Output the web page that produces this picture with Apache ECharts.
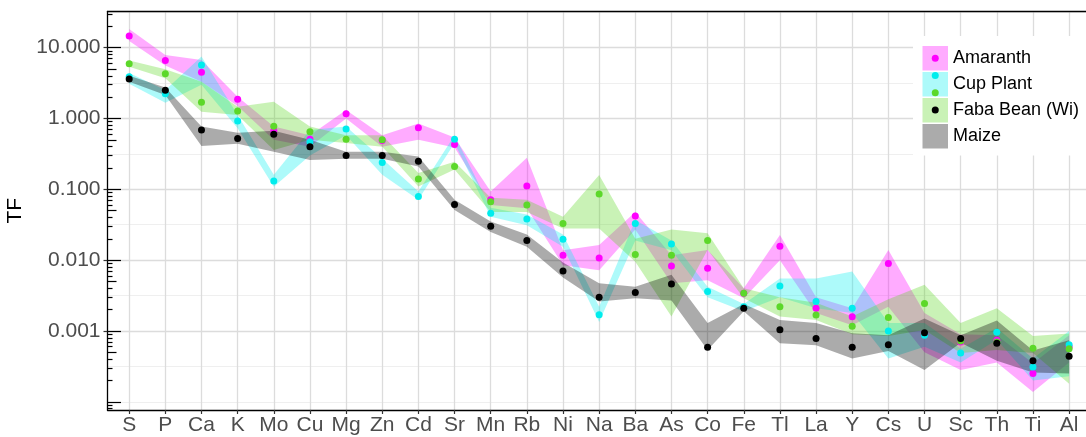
<!DOCTYPE html>
<html><head><meta charset="utf-8">
<script src="https://cdn.jsdelivr.net/npm/echarts@6/dist/echarts.min.js"></script>
<style>html,body{margin:0;padding:0;background:#fff}#c{width:1086px;height:437px}</style>
</head><body><div id="c"></div><script>
const elements = ['S','P','Ca','K','Mo','Cu','Mg','Zn','Cd','Sr','Mn','Rb','Ni','Na','Ba','As','Co','Fe','Tl','La','Y','Cs','U','Sc','Th','Ti','Al'];
const yBreaks = [0.001, 0.01, 0.1, 1, 10];

const amaranthMean = [14.6, 6.6, 4.5, 1.87, 0.67, 0.51, 1.17, 0.49, 0.74, 0.43, 0.071, 0.111, 0.0117, 0.0107, 0.042, 0.0083, 0.0077, 0.0034, 0.0157, 0.0021, 0.00159, 0.009, 0.0009, 0.0007, 0.00074, 0.00025, 0.0006];
const amaranthLow  = [12.4, 5.6, 3.3, 1.5, 0.5, 0.40, 1.0, 0.40, 0.50, 0.39, 0.06, 0.054, 0.0085, 0.0072, 0.027, 0.0047, 0.0052, 0.0029, 0.010, 0.0018, 0.0012, 0.0022, 0.0005, 0.00028, 0.00036, 0.000138, 0.00036];
const amaranthHigh = [18.4, 7.9, 6.7, 2.03, 0.77, 0.58, 1.32, 0.58, 0.85, 0.54, 0.093, 0.28, 0.0138, 0.0163, 0.048, 0.0117, 0.0139, 0.0040, 0.0226, 0.0030, 0.0021, 0.0139, 0.0018, 0.0009, 0.00087, 0.00035, 0.00087];

const cupMean = [3.9, 2.24, 5.7, 0.92, 0.131, 0.47, 0.71, 0.24, 0.079, 0.51, 0.046, 0.038, 0.0197, 0.0017, 0.033, 0.0169, 0.0036, 0.0022, 0.0043, 0.0026, 0.0021, 0.001, 0.00087, 0.00049, 0.00096, 0.00031, 0.00064];
const cupLow  = [3.1, 1.67, 3.0, 0.73, 0.109, 0.30, 0.58, 0.16, 0.071, 0.45, 0.041, 0.031, 0.0155, 0.00134, 0.019, 0.0138, 0.0030, 0.0019, 0.0030, 0.0021, 0.0018, 0.00041, 0.0006, 0.00036, 0.00075, 0.0002, 0.00023];
const cupHigh = [4.4, 2.53, 7.5, 1.12, 0.16, 0.69, 0.77, 0.27, 0.093, 0.58, 0.055, 0.044, 0.023, 0.0022, 0.037, 0.019, 0.0042, 0.0024, 0.0055, 0.0055, 0.0069, 0.0013, 0.0013, 0.00056, 0.0011, 0.00041, 0.001];

const fabaMean = [5.95, 4.3, 1.69, 1.28, 0.78, 0.65, 0.51, 0.50, 0.14, 0.21, 0.067, 0.060, 0.033, 0.086, 0.012, 0.0117, 0.019, 0.0034, 0.0022, 0.00168, 0.00117, 0.00155, 0.00245, 0.00072, 0.0007, 0.00057, 0.00056];
const fabaLow  = [5.4, 3.7, 1.25, 1.12, 0.36, 0.5, 0.45, 0.40, 0.11, 0.19, 0.048, 0.048, 0.028, 0.028, 0.0095, 0.0016, 0.014, 0.0029, 0.0016, 0.00143, 0.0009, 0.00085, 0.00103, 0.00049, 0.00054, 0.00049, 0.00018];
const fabaHigh = [6.6, 4.95, 3.3, 1.47, 1.73, 0.77, 0.58, 0.58, 0.17, 0.245, 0.076, 0.071, 0.041, 0.159, 0.02, 0.027, 0.024, 0.0040, 0.0030, 0.0025, 0.0016, 0.0028, 0.0045, 0.0013, 0.0021, 0.00085, 0.00092];

const maizeMean = [3.6, 2.5, 0.69, 0.52, 0.6, 0.40, 0.30, 0.30, 0.25, 0.061, 0.030, 0.019, 0.007, 0.003, 0.0035, 0.0046, 0.00059, 0.0021, 0.00104, 0.00078, 0.00059, 0.00064, 0.00094, 0.00078, 0.00067, 0.00038, 0.00044];
const maizeLow  = [3.3, 2.15, 0.41, 0.44, 0.34, 0.26, 0.27, 0.27, 0.21, 0.051, 0.025, 0.0155, 0.0057, 0.0026, 0.0029, 0.0027, 0.00054, 0.0019, 0.00067, 0.00063, 0.00041, 0.00052, 0.00028, 0.00068, 0.00038, 0.00026, 0.00025];
const maizeHigh = [4.0, 2.75, 0.77, 0.63, 0.67, 0.5, 0.34, 0.34, 0.29, 0.071, 0.035, 0.023, 0.0093, 0.0047, 0.0042, 0.0062, 0.0013, 0.0024, 0.00143, 0.0013, 0.00093, 0.00087, 0.0015, 0.00087, 0.0014, 0.00053, 0.00074];

const FONT = '"Liberation Sans", Arial, Helvetica, sans-serif';
const L = v => Math.log10(v);
const yMin = -4.116, yMax = 1.511;
const xMin = -0.6, xMax = elements.length - 1 + 0.6;

const plants = [
  {name:'Amaranth', mean:amaranthMean, lo:amaranthLow, hi:amaranthHigh, point:'#FF00FF', band:'rgba(255,0,255,0.33)'},
  {name:'Cup Plant', mean:cupMean, lo:cupLow, hi:cupHigh, point:'#00EDED', band:'rgba(0,240,240,0.32)'},
  {name:'Faba Bean (Wi)', mean:fabaMean, lo:fabaLow, hi:fabaHigh, point:'#5CD82A', band:'rgba(88,216,28,0.32)'},
  {name:'Maize', mean:maizeMean, lo:maizeLow, hi:maizeHigh, point:'#000000', band:'rgba(0,0,0,0.33)'}
];

const series = [];
plants.forEach((p) => {
  series.push({
    name: p.name + ' band', type: 'custom', silent: true, z: 2,
    encode: {x: 0, y: [1, 2]},
    data: p.lo.map((v, i) => [i, L(v), L(p.hi[i])]),
    renderItem: (params, api) => {
      if (params.dataIndexInside !== 0) return null;
      const n = params.dataInsideLength;
      const top = [], bot = [];
      for (let j = 0; j < n; j++) {
        top.push(api.coord([api.value(0, j), api.value(2, j)]));
        bot.push(api.coord([api.value(0, j), api.value(1, j)]));
      }
      return {type: 'polygon', shape: {points: top.concat(bot.reverse())},
              style: {fill: p.band, stroke: null}, silent: true};
    }
  });
});
plants.forEach(p => series.push({name:p.name, type:'scatter', data:p.mean.map((v,i)=>[i, L(v)]),
  symbolSize:7, itemStyle:{color:p.point, opacity:1}, z:3}));

const yMajor = yBreaks.map(L);
const yMinor = [];
for (let d = -5; d <= 2; d += 0.5) { if (d >= yMin && d <= yMax && !yMajor.some(m => Math.abs(m-d) < 1e-9)) yMinor.push(d); }
const tLong = [], tMid = [], tShort = [];
for (let d = -5; d <= 1; d++) for (let k = 1; k <= 9; k++) {
  const v = d + Math.log10(k);
  if (v < yMin || v > yMax) continue;
  (k === 1 ? tLong : k === 5 ? tMid : tShort).push(v);
}
const xIdx = elements.map((_, i) => i);

const hiddenY = (extra) => Object.assign({type:'value', min:yMin, max:yMax, position:'left',
  axisLine:{show:false, onZero:false}, axisLabel:{show:false}, splitLine:{show:false}, axisTick:{show:false}}, extra);

const option = {
  animation: false,
  backgroundColor: '#fff',
  textStyle: {fontFamily: FONT},
  grid: {left:107.5, right:-4.8, top:11.5, bottom:27, containLabel:false, outerBoundsMode:'none'},
  xAxis: [
    {type:'value', min:xMin, max:xMax, position:'bottom',
     axisLine:{onZero:false, lineStyle:{color:'#000', width:1.3}},
     axisTick:{show:true, length:4, customValues:xIdx, lineStyle:{color:'#333', width:1.2}},
     axisLabel:{customValues:xIdx, formatter:v => elements[Math.round(v)], color:'#4d4d4d', fontSize:21, fontFamily:FONT, margin:5},
     splitLine:{show:true, lineStyle:{color:'#dcdcdc', width:1.3}}},
    {type:'value', min:xMin, max:xMax, position:'top',
     axisLine:{show:true, onZero:false, lineStyle:{color:'#000', width:1.3}},
     axisTick:{show:false}, axisLabel:{show:false}, splitLine:{show:false}}
  ],
  yAxis: [
    {type:'value', min:yMin, max:yMax, position:'left',
     name:'TF', nameLocation:'middle', nameGap:78, nameRotate:90,
     nameTextStyle:{color:'#000', fontSize:21, fontFamily:FONT},
     axisLine:{show:true, onZero:false, lineStyle:{color:'#000', width:1.3}},
     axisTick:{show:true, length:4, customValues:yMajor, lineStyle:{color:'#333', width:1.2}},
     axisLabel:{customValues:yMajor, formatter:v => Math.pow(10, v).toFixed(3), color:'#4d4d4d', fontSize:21, fontFamily:FONT, margin:7},
     splitLine:{show:true, lineStyle:{color:'#dcdcdc', width:1.3}}},
    hiddenY({axisTick:{show:false, customValues:yMinor}, splitLine:{show:true, lineStyle:{color:'#efefef', width:1}}}),
    hiddenY({axisTick:{show:true, inside:true, length:13.5, customValues:tLong, lineStyle:{color:'#000', width:1.2}}}),
    hiddenY({axisTick:{show:true, inside:true, length:9, customValues:tMid, lineStyle:{color:'#000', width:1.2}}}),
    hiddenY({axisTick:{show:true, inside:true, length:5, customValues:tShort, lineStyle:{color:'#000', width:1.2}}})
  ],
  legend: [
    {orient:'vertical', left:913, top:36, padding:[10, 200, 7, 9.5], backgroundColor:'#fff',
     itemWidth:25.5, itemHeight:24.5, itemGap:1.5, selectedMode:false, z:10,
     textStyle:{fontSize:18, color:'#000', fontFamily:FONT},
     data: plants.map(p => ({name:p.name, icon:'rect', itemStyle:{color:p.band, borderWidth:0}}))},
    {orient:'vertical', left:931.75, top:46, padding:0,
     itemWidth:7, itemHeight:24.5, itemGap:1.5, selectedMode:false, z:11,
     formatter: () => '', textStyle:{fontSize:10},
     data: plants.map(p => ({name:p.name, icon:'circle', itemStyle:{color:p.point, borderWidth:0}}))}
  ],
  series: series
};
const chart = echarts.init(document.getElementById('c'), null, {renderer:'canvas'});
chart.setOption(option);
</script></body></html>
